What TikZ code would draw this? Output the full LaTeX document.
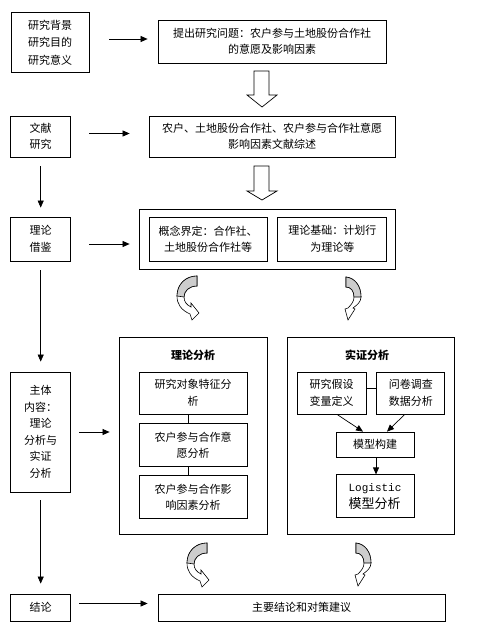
\documentclass[tikz,border=0pt]{standalone}
\usepackage{fontspec}
\setmainfont{Noto Sans CJK SC}
\setmonofont{Liberation Mono}
\usetikzlibrary{arrows.meta,positioning}
\definecolor{curlgray}{RGB}{205,205,205}

\begin{document}
\begin{tikzpicture}[x=1pt,y=-1pt,>={Triangle[length=7pt,width=6pt]},
	font=\fontsize{11}{16.5}\selectfont,
	curlL/.pic={
		\draw[curl] (20,0) -- (20,10) .. controls (12,10) and (7,15) .. (7,21) .. controls (7,26) and (10,29) .. (14,31) -- (14,27) -- (22,37) -- (15,44) -- (13,38) .. controls (4,34) and (0,28) .. (0,20) .. controls (0,8) and (9,0) .. (20,0) -- cycle;
		\draw[curl,fill=curlgray] (20,0) -- (20,10) .. controls (12,10) and (7,15) .. (7,21) -- (0,20) .. controls (0,8) and (9,0) .. (20,0) -- cycle;
	},
	curlR/.pic={
		\draw[curl] (1,0) .. controls (10,1) and (16,9) .. (16,20) .. controls (16,25) and (12,28) .. (8,31) -- (10,32) -- (3,43) -- (0,32) -- (3,31) .. controls (7,27) and (9,24) .. (9,20) .. controls (9,14) and (6,10) .. (1,10) -- cycle;
		\draw[curl,fill=curlgray] (1,0) .. controls (10,1) and (16,9) .. (16,20) -- (9,20) .. controls (9,14) and (6,10) .. (1,10) -- cycle;
	}]
	\tikzstyle{box}=[draw=black,line width=0.8pt,align=center,inner sep=2pt]
	\tikzstyle{side}=[box,minimum width=60pt]
	\tikzstyle{frame}=[draw=black,line width=0.8pt]
	\tikzstyle{arr}=[->,line width=0.7pt]
	\tikzstyle{curl}=[draw=black,line width=0.6pt,fill=white]
	\useasboundingbox (0,0) rectangle (484,639);
	
	% left column
	\node[side,minimum width=78pt,minimum height=60pt,text depth=0pt] (bg) at (50,42) {研究背景\\[1pt]研究目的\\[1pt]研究意义};
	\node[side,minimum height=41pt] (lit) at (40.7,136.5) {文献\\研究};
	\node[side,minimum height=44pt] (theo) at (40.7,239) {理论\\借鉴};
	\node[side,minimum height=120pt] (main) at (40.7,432) {主体\\内容：\\理论\\分析与\\实证\\分析};
	\node[side,minimum height=27pt] (concl) at (40.7,607.5) {结论};
	
	% right column
	\node[box,minimum width=228pt,minimum height=43pt] (q) at (272,41.5) {提出研究问题：农户参与土地股份合作社\\的意愿及影响因素};
	\node[box,minimum width=246pt,minimum height=41pt] (rev) at (272,136.5) {农户、土地股份合作社、农户参与合作社意愿\\影响因素文献综述};
	\node[frame,minimum width=256pt,minimum height=60pt] (base) at (267,239) {};
	\node[box,minimum width=118pt,minimum height=44pt] (c1) at (208,239) {概念界定：合作社、\\土地股份合作社等};
	\node[box,minimum width=109pt,minimum height=44pt] (c2) [right=10pt of c1] {理论基础：计划行\\为理论等};
	
	% theory part
	\node[frame,minimum width=148pt,minimum height=197pt] (tl) at (193,435.5) {};
	\node[font=\fontsize{11}{13}\selectfont\bfseries] (tltitle) at (193,355) {理论分析};
	\node[box,minimum width=108pt,minimum height=42pt] (la) at (193,393) {研究对象特征分\\析};
	\node[box,minimum width=108pt,minimum height=43pt] (lb) [below=9pt of la] {农户参与合作意\\愿分析};
	\node[box,minimum width=108pt,minimum height=43pt] (lc) [below=8pt of lb] {农户参与合作影\\响因素分析};
	
	% empirical part
	\node[frame,minimum width=167pt,minimum height=197pt] (em) at (370.5,435.5) {};
	\node[font=\fontsize{11}{13}\selectfont\bfseries] (emtitle) at (367,355) {实证分析};
	\node[box,minimum width=69pt,minimum height=42pt] (ra) at (331.5,393) {研究假设\\变量定义};
	\node[box,minimum width=68pt,minimum height=42pt] (rb) [right=10pt of ra] {问卷调查\\数据分析};
	\node[box,minimum width=78pt,minimum height=25pt] (model) at (375,444.5) {模型构建};
	\node[box,minimum width=78pt,minimum height=43pt,align=left,
		font=\fontsize{13}{17}\selectfont] (logit) [below=17pt of model] {{\ttfamily\fontsize{11}{17}\selectfont Logistic}\\模型分析};
	
	\node[box,minimum width=287pt,minimum height=27pt] (final) at (301.5,607.5) {主要结论和对策建议};
	
	% arrows
	\draw[arr,shorten <=20pt,shorten >=10pt] ([yshift=3pt]bg.east) -- ([yshift=3pt]bg.east -| q.west);
	\draw[arr,shorten <=18pt,shorten >=19pt] ([yshift=3pt]lit.east) -- ([yshift=3pt]lit.east -| rev.west);
	\draw[arr,shorten <=18pt,shorten >=9pt] ([yshift=-5pt]theo.east) -- ([yshift=-5pt]theo.east -| base.west);
	\draw[arr,shorten <=8pt,shorten >=9pt] (main.east) -- (main.east -| tl.west);
	\draw[arr,shorten <=8pt,shorten >=10pt] ([yshift=4pt]concl.east) -- ([yshift=4pt]concl.east -| final.west);
	\draw[arr,shorten <=9pt,shorten >=9pt] (lit) -- (theo);
	\draw[arr,shorten <=9pt,shorten >=10pt] (theo) -- (main);
	\draw[arr,shorten <=8pt,shorten >=10pt] (main) -- (concl);
	
	\draw[line width=0.7pt] ([xshift=-5pt]la.south) -- ([xshift=-5pt]lb.north);
	\draw[line width=0.7pt] ([xshift=-5pt]lb.south) -- ([xshift=-5pt]lc.north);
	\draw[line width=0.7pt] ([yshift=5pt]ra.east) -- ([yshift=5pt]rb.west);
	\draw[arr] ([xshift=5.5pt]ra.south) -- ([xshift=-12pt]model.north);
	\draw[arr] ([xshift=-6pt]rb.south) -- ([xshift=12pt]model.north);
	\draw[arr] ([xshift=1pt]model.south) -- ([xshift=1pt]logit.north);
	
	% hollow arrows
	\foreach \t/\b/\p in {71/95/107,166/191/200}
		\draw[line width=0.7pt] (254,\t) -- (269,\t) -- (269,\b) -- (277,\b) -- (262,\p) -- (247,\b) -- (254,\b) -- cycle;
	
	% curved arrows
	\pic at (177,276) {curlL};
	\pic at (345,277) {curlR};
	\pic at (187,543) {curlL};
	\pic at (355,543) {curlR};
\end{tikzpicture}
\end{document}
